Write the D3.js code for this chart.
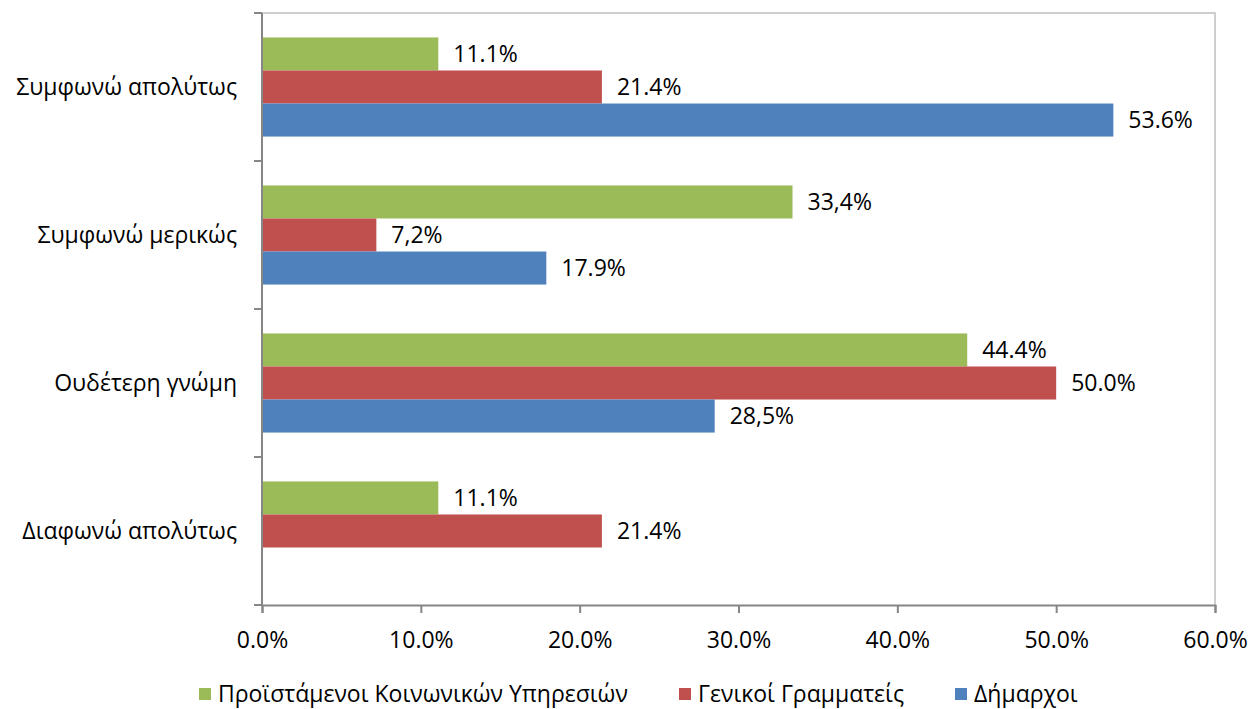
<!DOCTYPE html>
<html lang="el">
<head>
<meta charset="utf-8">
<script src="https://d3js.org/d3.v7.min.js"></script>
<style>
  body { margin: 0; background: #fff; }
  text { font-family: "Open Sans", "Noto Sans", sans-serif; fill: #000; }
</style>
</head>
<body>
<script>
// categories top to bottom
const categories = ["Συμφωνώ απολύτως", "Συμφωνώ μερικώς", "Ουδέτερη γνώμη", "Διαφωνώ απολύτως"];
const seriesNames = ["Προϊστάμενοι Κοινωνικών Υπηρεσιών", "Γενικοί Γραμματείς", "Δήμαρχοι"];
const seriesColors = ["#9BBB59", "#C0504D", "#4F81BD"];
// values per series, in category order
const proistamenoi = [11.1, 33.4, 44.4, 11.1];
const grammateis = [21.4, 7.2, 50.0, 21.4];
const dimarxoi = [53.6, 17.9, 28.5, 0];
// labels as printed on the chart (some with decimal comma)
const proistamenoiLabels = ["11.1%", "33,4%", "44.4%", "11.1%"];
const grammateisLabels = ["21.4%", "7,2%", "50.0%", "21.4%"];
const dimarxoiLabels = ["53.6%", "17.9%", "28,5%", ""];
const xTicks = [0, 10, 20, 30, 40, 50, 60];

const W = 1252, H = 709;
const plotL = 262, plotR = 1215, plotT = 13, plotB = 605;
const fs = 23;

const svg = d3.select("body").append("svg")
    .attr("width", W)
    .attr("height", H);

const x = d3.scaleLinear().domain([0, 60]).range([plotL, plotR]);
const y = d3.scaleBand().domain(categories).range([plotT, plotB]);
const inner = d3.scaleBand().domain(seriesNames).range([0, y.bandwidth()]).paddingOuter(0.74);

// plot border (top/right)
svg.append("path")
    .attr("d", `M${plotL},${plotT}H${plotR}V${plotB}`)
    .attr("fill", "none")
    .attr("stroke", "#BFBFBF")
    .attr("stroke-width", 1.5);

const series = [
    { name: seriesNames[0], values: proistamenoi, labels: proistamenoiLabels, color: seriesColors[0] },
    { name: seriesNames[1], values: grammateis, labels: grammateisLabels, color: seriesColors[1] },
    { name: seriesNames[2], values: dimarxoi, labels: dimarxoiLabels, color: seriesColors[2] }
];

series.forEach(s => {
    const rows = categories.map((c, i) => ({ c: c, v: s.values[i], l: s.labels[i] }));
    svg.append("g").selectAll("rect")
        .data(rows.filter(d => d.v > 0))
        .enter().append("rect")
        .attr("x", x(0))
        .attr("y", d => y(d.c) + inner(s.name))
        .attr("width", d => x(d.v) - x(0))
        .attr("height", inner.bandwidth())
        .attr("fill", s.color);
    svg.append("g").selectAll("text")
        .data(rows.filter(d => d.l !== ""))
        .enter().append("text")
        .attr("x", d => x(d.v) + 15)
        .attr("y", d => y(d.c) + inner(s.name) + inner.bandwidth() / 2)
        .attr("dy", "0.35em")
        .attr("font-size", fs)
        .text(d => d.l);
});

// x axis
const xAxis = svg.append("g")
    .attr("transform", `translate(0,${plotB})`)
    .call(d3.axisBottom(x).tickValues(xTicks).tickFormat(d => d.toFixed(1) + "%").tickSizeOuter(0).tickSize(8).tickPadding(19));
xAxis.selectAll("line, path").attr("stroke", "#868686").attr("stroke-width", 2);
xAxis.selectAll("text").attr("font-size", fs).attr("font-family", "Open Sans, Noto Sans, sans-serif");

// y axis: ticks at band edges
const yEdges = categories.map(c => y(c)).concat([plotB]);
svg.append("g").selectAll("line")
    .data(yEdges)
    .enter().append("line")
    .attr("x1", plotL - 8).attr("x2", plotL)
    .attr("y1", d => d).attr("y2", d => d)
    .attr("stroke", "#868686").attr("stroke-width", 2);
svg.append("line")
    .attr("x1", plotL).attr("x2", plotL)
    .attr("y1", plotT).attr("y2", plotB)
    .attr("stroke", "#868686").attr("stroke-width", 2);
svg.append("g").selectAll("text")
    .data(categories)
    .enter().append("text")
    .attr("x", plotL - 25)
    .attr("y", d => y(d) + y.bandwidth() / 2)
    .attr("dy", "0.35em")
    .attr("text-anchor", "end")
    .attr("font-size", fs)
    .text(d => d);

// legend
const legendX = [199, 679, 955];
const legend = svg.append("g").selectAll("g")
    .data(series)
    .enter().append("g")
    .attr("transform", (d, i) => `translate(${legendX[i]},688)`);
legend.append("rect")
    .attr("width", 12).attr("height", 12)
    .attr("fill", d => d.color);
legend.append("text")
    .attr("x", 19).attr("y", 6)
    .attr("dy", "0.35em")
    .attr("font-size", fs)
    .text(d => d.name);
</script>
</body>
</html>
